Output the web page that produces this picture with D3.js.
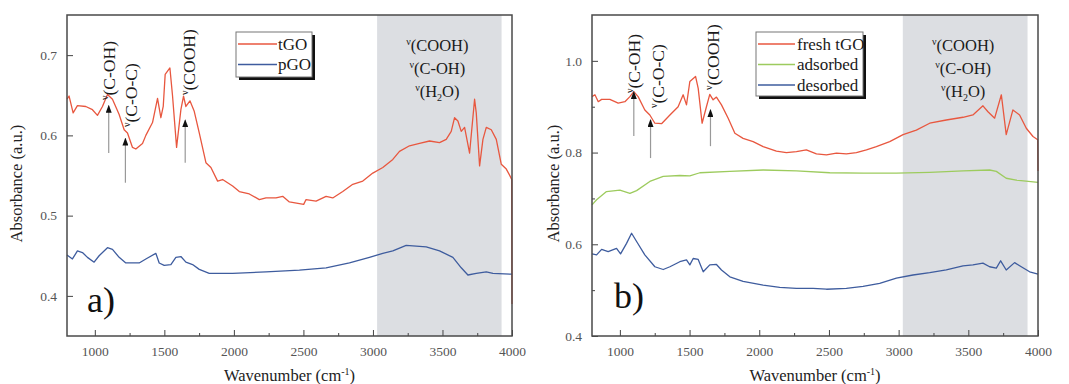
<!DOCTYPE html>
<html>
<head>
<meta charset="utf-8">
<script src="https://cdn.jsdelivr.net/npm/d3@7/dist/d3.min.js"></script>
<style>
  html, body { margin: 0; padding: 0; background: #fff; }
  svg { display: block; }
</style>
</head>
<body>
<svg id="chart" width="1069" height="384"></svg>
<script>
// ---- data (wavenumber cm-1, absorbance a.u.) ----
const tGO = [
  [800, 0.645], [815, 0.649], [844, 0.628], [875, 0.637], [935, 0.636], [983, 0.632],
  [1019, 0.625], [1055, 0.636], [1091, 0.651], [1127, 0.645], [1175, 0.626], [1211, 0.607],
  [1235, 0.603], [1271, 0.585], [1295, 0.583], [1343, 0.59], [1367, 0.6], [1415, 0.616],
  [1451, 0.646], [1475, 0.622], [1492, 0.636], [1506, 0.676], [1523, 0.68], [1540, 0.684],
  [1559, 0.649], [1588, 0.585], [1619, 0.632], [1638, 0.649], [1655, 0.636], [1684, 0.643],
  [1715, 0.63], [1751, 0.603], [1799, 0.566], [1835, 0.56], [1883, 0.543], [1919, 0.545],
  [1991, 0.537], [2039, 0.53], [2111, 0.527], [2183, 0.52], [2231, 0.522], [2303, 0.522],
  [2351, 0.524], [2399, 0.517], [2471, 0.515], [2502, 0.514], [2519, 0.52], [2591, 0.518],
  [2663, 0.524], [2711, 0.522], [2783, 0.53], [2855, 0.539], [2927, 0.543], [2999, 0.553],
  [3071, 0.56], [3143, 0.57], [3191, 0.58], [3263, 0.587], [3335, 0.59], [3407, 0.593],
  [3479, 0.591], [3527, 0.595], [3563, 0.605], [3587, 0.622], [3611, 0.618], [3635, 0.605],
  [3659, 0.61], [3695, 0.578], [3731, 0.645], [3743, 0.628], [3767, 0.562], [3791, 0.595],
  [3815, 0.61], [3851, 0.607], [3887, 0.595], [3923, 0.564], [3959, 0.558], [3990, 0.548],
  [3998, 0.545], [4000, 0.39]
];
const pGO = [
  [800, 0.451], [839, 0.446], [875, 0.456], [911, 0.454], [947, 0.448], [995, 0.442],
  [1031, 0.45], [1091, 0.46], [1127, 0.458], [1175, 0.448], [1223, 0.441], [1319, 0.441],
  [1367, 0.446], [1439, 0.453], [1463, 0.441], [1499, 0.438], [1547, 0.439], [1583, 0.448],
  [1619, 0.449], [1655, 0.442], [1703, 0.439], [1751, 0.433], [1823, 0.428], [1991, 0.428],
  [2231, 0.43], [2471, 0.432], [2663, 0.435], [2831, 0.441], [2975, 0.448], [3071, 0.453],
  [3143, 0.456], [3239, 0.463], [3383, 0.461], [3479, 0.456], [3575, 0.448], [3635, 0.435],
  [3683, 0.426], [3743, 0.428], [3815, 0.43], [3863, 0.428], [4000, 0.427]
];
const freshTGO = [
  [800, 0.922], [821, 0.926], [845, 0.911], [869, 0.916], [928, 0.916], [988, 0.908],
  [1036, 0.911], [1072, 0.922], [1100, 0.933], [1131, 0.922], [1179, 0.893], [1215, 0.882],
  [1251, 0.864], [1299, 0.863], [1359, 0.882], [1418, 0.9], [1454, 0.926], [1478, 0.904],
  [1502, 0.955], [1543, 0.966], [1562, 0.94], [1590, 0.864], [1621, 0.9], [1645, 0.927],
  [1669, 0.915], [1693, 0.921], [1729, 0.904], [1777, 0.875], [1825, 0.842], [1884, 0.831],
  [1956, 0.824], [2028, 0.813], [2123, 0.803], [2195, 0.8], [2267, 0.802], [2338, 0.806],
  [2410, 0.797], [2482, 0.795], [2554, 0.799], [2625, 0.797], [2697, 0.8], [2769, 0.806],
  [2840, 0.813], [2936, 0.824], [3032, 0.839], [3127, 0.849], [3223, 0.864], [3342, 0.871],
  [3462, 0.877], [3533, 0.882], [3605, 0.902], [3641, 0.889], [3689, 0.875], [3737, 0.926],
  [3772, 0.839], [3820, 0.893], [3868, 0.882], [3916, 0.853], [3964, 0.835], [3998, 0.828],
  [4000, 0.76]
];
const adsorbed = [
  [800, 0.686], [833, 0.697], [904, 0.715], [1000, 0.718], [1072, 0.711], [1120, 0.717],
  [1215, 0.737], [1311, 0.748], [1430, 0.75], [1502, 0.749], [1574, 0.756], [1789, 0.759],
  [2028, 0.762], [2267, 0.76], [2506, 0.756], [2745, 0.755], [2984, 0.755], [3223, 0.757],
  [3462, 0.76], [3653, 0.762], [3701, 0.759], [3772, 0.744], [3844, 0.74], [4000, 0.735]
];
const desorbed = [
  [800, 0.579], [833, 0.577], [869, 0.589], [916, 0.584], [976, 0.591], [1005, 0.579],
  [1048, 0.602], [1084, 0.624], [1120, 0.606], [1179, 0.577], [1251, 0.551], [1311, 0.545],
  [1359, 0.551], [1430, 0.562], [1478, 0.566], [1502, 0.555], [1526, 0.569], [1562, 0.567],
  [1598, 0.54], [1645, 0.555], [1693, 0.556], [1729, 0.544], [1789, 0.529], [1884, 0.519],
  [2028, 0.511], [2147, 0.506], [2267, 0.504], [2386, 0.504], [2482, 0.502], [2625, 0.504],
  [2745, 0.508], [2864, 0.515], [2984, 0.526], [3103, 0.533], [3223, 0.538], [3342, 0.544],
  [3462, 0.553], [3533, 0.555], [3605, 0.559], [3653, 0.551], [3701, 0.548], [3732, 0.564],
  [3772, 0.544], [3832, 0.56], [3880, 0.551], [3940, 0.54], [4000, 0.535]
];

const xTicks = [1000, 1500, 2000, 2500, 3000, 3500, 4000];
const xMinorTicks = [1250, 1750, 2250, 2750, 3250, 3750];
const shadeBand = [3030, 3925];
const bandLabels = ['(COOH)', '(C-OH)', '(H|2|O)'];
const peakLabels = ['(C-OH)', '(C-O-C)', '(COOH)'];

const RED = '#e8573f', BLUE = '#3e5c9e', GREEN = '#9dcb5e';
const FONT = 'Liberation Serif';

const panels = [
  {
    left: 67, right: 512, top: 15, bottom: 336,
    yDomain: [0.35, 0.75], yTicks: [0.4, 0.5, 0.6, 0.7], yMinor: [],
    series: [{ name: 'tGO', data: tGO, color: RED }, { name: 'pGO', data: pGO, color: BLUE }],
    legend: { x: 236, y: 32, w: 76, h: 45 },
    // arrows: wavenumber, from value, to value, text offset px, text start y
    arrows: [[1100, 0.578, 0.637, 0, 100], [1220, 0.541, 0.596, 6, 127], [1650, 0.566, 0.619, 4, 95]],
    tag: 'a)', tagX: 87, tagY: 312, ytitleX: 22
  },
  {
    left: 592, right: 1038, top: 15, bottom: 336,
    yDomain: [0.4, 1.1], yTicks: [0.4, 0.6, 0.8, 1.0], yMinor: [0.5, 0.7, 0.9],
    series: [
      { name: 'fresh tGO', data: freshTGO, color: RED },
      { name: 'adsorbed', data: adsorbed, color: GREEN },
      { name: 'desorbed', data: desorbed, color: BLUE }
    ],
    legend: { x: 756, y: 32, w: 107, h: 64 },
    arrows: [[1100, 0.836, 0.932, 0, 93], [1220, 0.788, 0.871, 7, 108], [1650, 0.814, 0.893, 3, 90]],
    tag: 'b)', tagX: 614, tagY: 308, ytitleX: 559
  }
];

const svg = d3.select('#chart');
const defs = svg.append('defs');
defs.append('marker')
  .attr('id', 'head')
  .attr('viewBox', '0 0 8 6')
  .attr('refX', 7).attr('refY', 3)
  .attr('markerWidth', 8).attr('markerHeight', 6)
  .attr('markerUnits', 'userSpaceOnUse')
  .attr('orient', 'auto')
  .append('path')
  .attr('d', 'M0,0 L8,3 L0,6 Z')
  .attr('fill', '#111');

function addText(g, x, y, size) {
  return g.append('text')
    .attr('x', x).attr('y', y)
    .attr('font-family', FONT)
    .attr('font-size', size)
    .attr('fill', '#1a1a1a');
}

panels.forEach(p => {
  const x = d3.scaleLinear().domain([800, 4000]).range([p.left, p.right]);
  const y = d3.scaleLinear().domain(p.yDomain).range([p.bottom, p.top]);
  const g = svg.append('g');

  // shaded band
  g.append('rect')
    .attr('x', x(shadeBand[0])).attr('y', p.top)
    .attr('width', x(shadeBand[1]) - x(shadeBand[0]))
    .attr('height', p.bottom - p.top)
    .attr('fill', '#dcdee2');

  // axes (ticks inward)
  g.append('g')
    .attr('transform', `translate(0,${p.bottom})`)
    .call(d3.axisBottom(x).tickValues(xMinorTicks).tickSize(-3).tickFormat(''))
    .call(a => a.select('.domain').remove())
    .call(a => a.selectAll('line').attr('stroke', '#444'));
  g.append('g')
    .attr('transform', `translate(0,${p.bottom})`)
    .call(d3.axisBottom(x).tickValues(xTicks).tickSize(-6).tickPadding(10).tickFormat(d3.format('d')))
    .call(a => a.select('.domain').remove())
    .call(a => a.selectAll('line').attr('stroke', '#444'))
    .call(a => a.selectAll('text').attr('font-family', FONT).attr('font-size', 13.5).attr('fill', '#555'));
  g.append('g')
    .attr('transform', `translate(${p.left},0)`)
    .call(d3.axisLeft(y).tickValues(p.yMinor).tickSize(-3).tickFormat(''))
    .call(a => a.select('.domain').remove())
    .call(a => a.selectAll('line').attr('stroke', '#444'));
  g.append('g')
    .attr('transform', `translate(${p.left},0)`)
    .call(d3.axisLeft(y).tickValues(p.yTicks).tickSize(-6).tickPadding(10).tickFormat(d3.format('.1f')))
    .call(a => a.select('.domain').remove())
    .call(a => a.selectAll('line').attr('stroke', '#444'))
    .call(a => a.selectAll('text').attr('font-family', FONT).attr('font-size', 13.5).attr('fill', '#555'));

  // series
  const line = d3.line().x(d => x(d[0])).y(d => y(d[1]));
  p.series.forEach(s => {
    g.append('path')
      .datum(s.data)
      .attr('d', line)
      .attr('fill', 'none')
      .attr('stroke', s.color)
      .attr('stroke-width', 1.3)
      .attr('stroke-linejoin', 'round');
  });

  // frame
  g.append('rect')
    .attr('x', p.left).attr('y', p.top)
    .attr('width', p.right - p.left).attr('height', p.bottom - p.top)
    .attr('fill', 'none').attr('stroke', '#4a4a4a').attr('stroke-width', 1.5);

  // peak arrows and rotated labels
  p.arrows.forEach((a, i) => {
    const ax = x(a[0]);
    g.append('line')
      .attr('x1', ax).attr('x2', ax)
      .attr('y1', y(a[1])).attr('y2', y(a[2]))
      .attr('stroke', '#999').attr('stroke-width', 1.2)
      .attr('marker-end', 'url(#head)');
    const tx = ax + a[3] + 6;
    const lg = g.append('g').attr('transform', `translate(${tx},${a[4]}) rotate(-90)`);
    const t = addText(lg, 0, 0, 17.5);
    t.append('tspan').attr('font-size', 10).attr('dy', -7).text('ν');
    t.append('tspan').attr('dy', 7).text(peakLabels[i]);
  });

  // band labels
  const bx = x((shadeBand[0] + shadeBand[1]) / 2) - 2;
  bandLabels.forEach((lab, i) => {
    const parts = lab.split('|');
    const t = addText(g, bx, 51 + i * 23, 16.5).attr('text-anchor', 'middle');
    t.append('tspan').attr('font-size', 10).attr('dy', -6).text('ν');
    t.append('tspan').attr('dy', 6).text(parts[0]);
    if (parts.length > 1) {
      t.append('tspan').attr('font-size', 10).attr('dy', 4).text(parts[1]);
      t.append('tspan').attr('dy', -4).text(parts[2]);
    }
  });

  // legend
  const L = p.legend;
  g.append('rect')
    .attr('x', L.x + 3).attr('y', L.y + 3).attr('width', L.w).attr('height', L.h)
    .attr('fill', '#111');
  g.append('rect')
    .attr('x', L.x).attr('y', L.y).attr('width', L.w).attr('height', L.h)
    .attr('fill', '#fff').attr('stroke', '#777').attr('stroke-width', 1);
  p.series.forEach((s, i) => {
    const ly = L.y + 12 + i * 20.5;
    g.append('line')
      .attr('x1', L.x + 2).attr('x2', L.x + (p.series.length > 2 ? 39 : 41))
      .attr('y1', ly).attr('y2', ly)
      .attr('stroke', s.color).attr('stroke-width', 1.3);
    addText(g, L.x + (p.series.length > 2 ? 41 : 42), ly + 5.5, 17).text(s.name);
  });

  // panel tag
  addText(g, p.tagX, p.tagY, 36).attr('fill', '#111').text(p.tag);

  // axis titles
  const xt = addText(g, (p.left + p.right) / 2, 381, 16.5)
    .attr('text-anchor', 'middle').attr('fill', '#222');
  xt.append('tspan').text('Wavenumber (cm');
  xt.append('tspan').attr('font-size', 10).attr('dy', -6).text('-1');
  xt.append('tspan').attr('dy', 6).text(')');

  g.append('text')
    .attr('transform', `translate(${p.ytitleX},${(p.top + p.bottom) / 2 + 8}) rotate(-90)`)
    .attr('text-anchor', 'middle')
    .attr('font-family', FONT)
    .attr('font-size', 16.5).attr('fill', '#222')
    .text('Absorbance (a.u.)');
});
</script>
</body>
</html>
